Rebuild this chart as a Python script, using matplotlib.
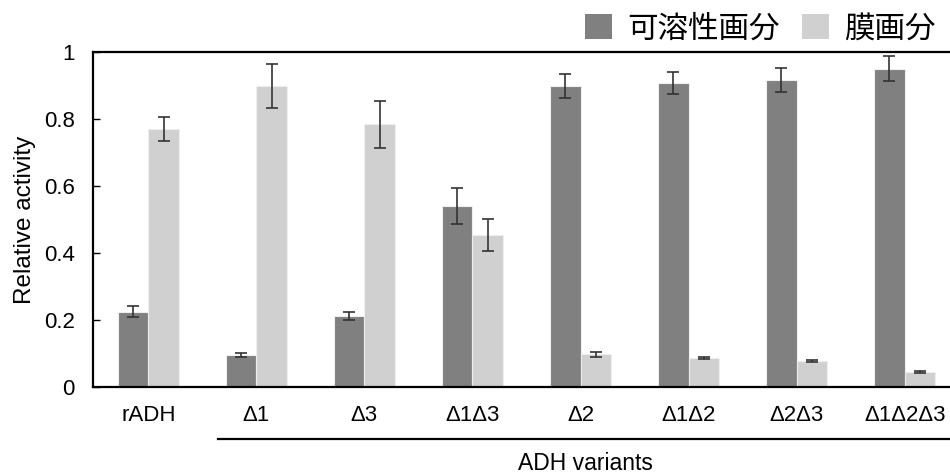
import numpy as np
import matplotlib
matplotlib.use("Agg")
import matplotlib.pyplot as plt
from matplotlib.lines import Line2D
from matplotlib.patches import Patch

plt.rcParams['font.family'] = ['Liberation Sans', 'Noto Sans CJK JP', 'DejaVu Sans']

variants = ["rADH", "Δ1", "Δ3", "Δ1Δ3", "Δ2", "Δ1Δ2", "Δ2Δ3", "Δ1Δ2Δ3"]
soluble = [0.225, 0.097, 0.213, 0.541, 0.898, 0.908, 0.917, 0.951]
soluble_err = [0.016, 0.006, 0.012, 0.053, 0.036, 0.032, 0.035, 0.037]
membrane = [0.771, 0.899, 0.784, 0.455, 0.098, 0.088, 0.079, 0.045]
membrane_err = [0.035, 0.067, 0.071, 0.048, 0.008, 0.003, 0.003, 0.004]
series_names = ["可溶性画分", "膜画分"]

dark = "#808080"
light = "#d0d0d0"

fig = plt.figure(figsize=(9.5, 4.73), dpi=100)
ax = fig.add_axes([0.0979, 0.1818, 0.9126, 0.708])

x = np.arange(len(variants))
w = 0.284
ekw = dict(ecolor="#333333", elinewidth=1.2, capsize=4, capthick=1.2)
ax.bar(x - w / 2, soluble, w, yerr=soluble_err, color=dark,
       edgecolor="#eeeeee", linewidth=0.8, error_kw=ekw, zorder=2)
ax.bar(x + w / 2, membrane, w, yerr=membrane_err, color=light,
       edgecolor="#eeeeee", linewidth=0.8, error_kw=ekw, zorder=2)

ax.set_xlim(-0.512, 7.512)
ax.set_ylim(0, 1)
ax.set_yticks([0, 0.2, 0.4, 0.6, 0.8, 1])
ax.set_yticklabels(["0", "0.2", "0.4", "0.6", "0.8", "1"])
ax.set_xticks(x)
ax.set_xticklabels(variants)
ax.tick_params(axis="y", direction="in", length=5, width=1, pad=13, labelsize=16)
ax.tick_params(axis="x", length=0, pad=13, labelsize=16)
for s in ["left", "top", "bottom"]:
    ax.spines[s].set_linewidth(1.6)
ax.spines["right"].set_visible(False)
ax.set_ylabel("Relative activity", fontsize=17.5, labelpad=6)

line = Line2D([0.645, 7.6], [-0.155, -0.155], transform=ax.get_xaxis_transform(),
              color="black", linewidth=1.6, clip_on=False)
ax.add_line(line)
ax.text(4.05, -0.228, "ADH variants", transform=ax.get_xaxis_transform(),
        ha="center", va="center", fontsize=16.5)

handles = [Patch(facecolor=dark, edgecolor="none"), Patch(facecolor=light, edgecolor="none")]
fig.legend(handles, series_names, loc="upper right", bbox_to_anchor=(1.014, 1.03),
           ncol=2, frameon=False, handlelength=0.9, handleheight=0.9,
           handletextpad=0.5, columnspacing=0.7,
           prop={"family": ["Noto Sans CJK JP"], "size": 22})

fig.savefig("out.png", dpi=100)
